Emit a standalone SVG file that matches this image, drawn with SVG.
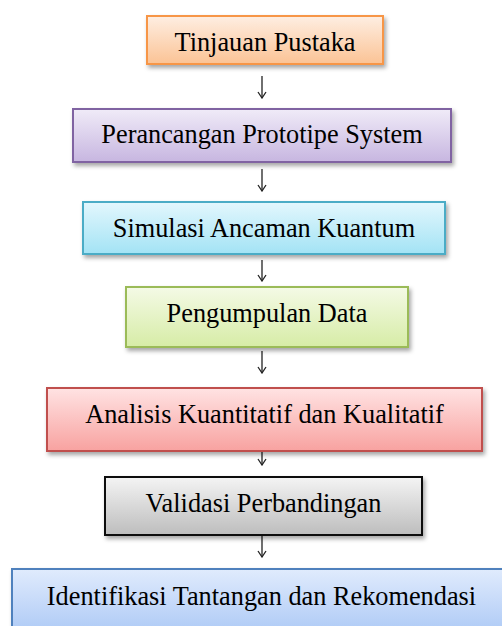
<svg xmlns="http://www.w3.org/2000/svg" width="502" height="626" viewBox="0 0 502 626">
<style>
.box{stroke-width:2}
.lbl{font-family:'Times New Roman','Liberation Serif',Tinos,'Noto Serif','DejaVu Serif',serif;font-size:26.3px;fill:#000;text-anchor:middle}
.con{stroke:#222;stroke-width:1.3;fill:none}
</style>
<defs>
<filter id="sh" x="-10%" y="-20%" width="130%" height="150%">
<feDropShadow dx="2" dy="3" stdDeviation="2" flood-color="#000" flood-opacity="0.35"/>
</filter>
<linearGradient id="g1" x1="0" y1="0" x2="0" y2="1"><stop offset="0" stop-color="#FEEEE2"/><stop offset="1" stop-color="#FBC395"/></linearGradient>
<linearGradient id="g2" x1="0" y1="0" x2="0" y2="1"><stop offset="0" stop-color="#F0EBF8"/><stop offset="1" stop-color="#C7B6E0"/></linearGradient>
<linearGradient id="g3" x1="0" y1="0" x2="0" y2="1"><stop offset="0" stop-color="#E3F7FD"/><stop offset="1" stop-color="#A3E3F5"/></linearGradient>
<linearGradient id="g4" x1="0" y1="0" x2="0" y2="1"><stop offset="0" stop-color="#F4FAE6"/><stop offset="1" stop-color="#D6ECA6"/></linearGradient>
<linearGradient id="g5" x1="0" y1="0" x2="0" y2="1"><stop offset="0" stop-color="#FFE3E3"/><stop offset="1" stop-color="#F8A2A0"/></linearGradient>
<linearGradient id="g6" x1="0" y1="0" x2="0" y2="1"><stop offset="0" stop-color="#F4F4F4"/><stop offset="1" stop-color="#BDBDBD"/></linearGradient>
<linearGradient id="g7" x1="0" y1="0" x2="0" y2="1"><stop offset="0" stop-color="#E0EBFD"/><stop offset="1" stop-color="#A9C7F5"/></linearGradient>
<marker id="ah" markerWidth="8" markerHeight="10" refX="7" refY="5" orient="auto" markerUnits="userSpaceOnUse" viewBox="0 0 8 10">
<path d="M1,1 L7,5 L1,9" fill="none" stroke="#222" stroke-width="1.3"/>
</marker>
</defs>
<g id="connectors">
<path class="con" d="M262,76 V98" marker-end="url(#ah)"/>
<path class="con" d="M262,169 V191" marker-end="url(#ah)"/>
<path class="con" d="M262,260 V281" marker-end="url(#ah)"/>
<path class="con" d="M262,351 V373" marker-end="url(#ah)"/>
<path class="con" d="M262,451 V465" marker-end="url(#ah)"/>
<path class="con" d="M262,536 V557" marker-end="url(#ah)"/>
</g>
<g id="n1"><rect class="box" x="147" y="16" width="236" height="48" fill="url(#g1)" stroke="#F79646" filter="url(#sh)"/><text class="lbl" x="265" y="51">Tinjauan Pustaka</text></g>
<g id="n2"><rect class="box" x="73" y="109" width="378" height="53" fill="url(#g2)" stroke="#8064A2" filter="url(#sh)"/><text class="lbl" x="262" y="143">Perancangan Prototipe System</text></g>
<g id="n3"><rect class="box" x="83" y="202" width="362" height="52" fill="url(#g3)" stroke="#4BACC6" filter="url(#sh)"/><text class="lbl" x="264" y="237">Simulasi Ancaman Kuantum</text></g>
<g id="n4"><rect class="box" x="126" y="287" width="282" height="60" fill="url(#g4)" stroke="#9BBB59" filter="url(#sh)"/><text class="lbl" x="267" y="322">Pengumpulan Data</text></g>
<g id="n5"><rect class="box" x="47" y="388" width="435" height="63" fill="url(#g5)" stroke="#C0504D" filter="url(#sh)"/><text class="lbl" x="264.5" y="423">Analisis Kuantitatif dan Kualitatif</text></g>
<g id="n6"><rect class="box" x="105" y="477" width="317" height="58" fill="url(#g6)" stroke="#111" filter="url(#sh)"/><text class="lbl" x="263.5" y="512">Validasi Perbandingan</text></g>
<g id="n7"><rect class="box" x="12" y="569" width="500" height="70" fill="url(#g7)" stroke="#4F81BD" filter="url(#sh)"/><text class="lbl" x="261.5" y="605">Identifikasi Tantangan dan Rekomendasi</text></g>
</svg>
